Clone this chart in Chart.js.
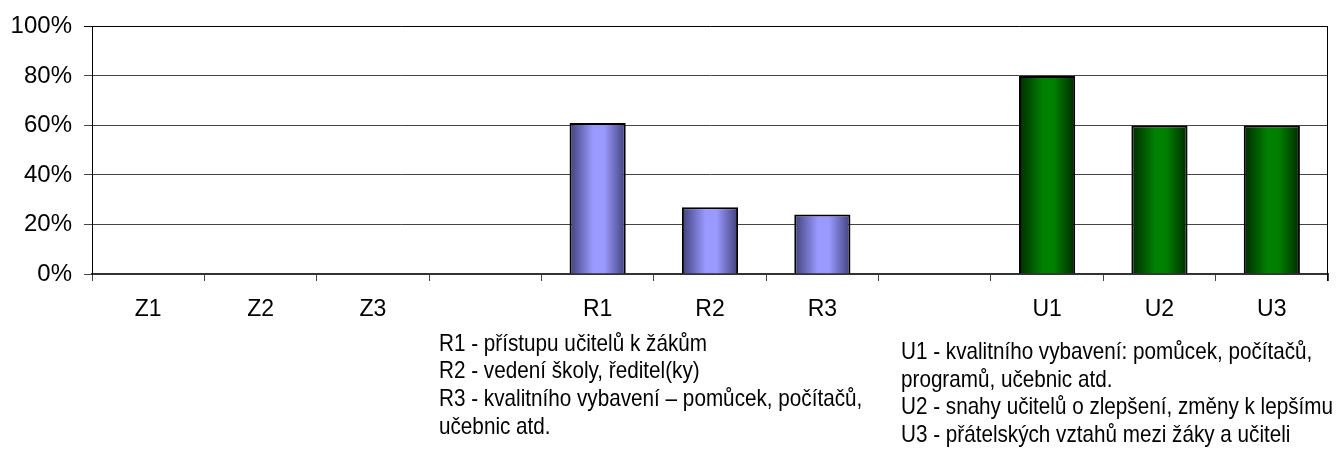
<!DOCTYPE html>
<html>
<head>
<meta charset="utf-8">
<script src="https://cdn.jsdelivr.net/npm/chart.js@4/dist/chart.umd.min.js"></script>
<style>
  html, body { margin: 0; padding: 0; background: #fff; }
  #wrap { position: relative; width: 1339px; height: 452px; overflow: hidden; }
  #c { position: absolute; left: 0; top: 0; }
  .note { position: absolute; font-family: "Liberation Sans", Arial, sans-serif; font-size: 24px; line-height: 27.7px; color: #000; white-space: nowrap; transform-origin: 0 0; }
</style>
</head>
<body>
<div id="wrap">
  <canvas id="c" width="1339" height="452"></canvas>
  <div class="note" id="noteR"></div>
  <div class="note" id="noteU"></div>
</div>
<script>
// ---- data ----
const categories = ['Z1', 'Z2', 'Z3', '', 'R1', 'R2', 'R3', '', 'U1', 'U2', 'U3'];
const rValues = [null, null, null, null, 61, 27, 24, null, null, null, null];
const uValues = [null, null, null, null, null, null, null, null, 80, 60, 60];
const yTicks = [0, 20, 40, 60, 80, 100];
const rNotes = [
  'R1 - přístupu učitelů k žákům',
  'R2 - vedení školy, ředitel(ky)',
  'R3 - kvalitního vybavení – pomůcek, počítačů,',
  'učebnic atd.'
];
const uNotes = [
  'U1 - kvalitního vybavení: pomůcek, počítačů,',
  'programů, učebnic atd.',
  'U2 - snahy učitelů o zlepšení, změny k lepšímu',
  'U3 - přátelských vztahů mezi žáky a učiteli'
];

const BAR_PCT = 0.5;
function gradientFill(edge, mid) {
  return function (ctx) {
    const chart = ctx.chart;
    const xs = chart.scales && chart.scales.x;
    if (!xs || ctx.type !== 'data' || !isFinite(xs.width) || xs.width <= 0) return mid;
    const cx = xs.getPixelForValue(ctx.dataIndex);
    const w = xs.width / categories.length * BAR_PCT;
    const g = chart.ctx.createLinearGradient(cx - w / 2, 0, cx + w / 2, 0);
    g.addColorStop(0, edge);
    g.addColorStop(0.42, mid);
    g.addColorStop(0.62, mid);
    g.addColorStop(1, edge);
    return g;
  };
}

const frame = {
  id: 'frame',
  afterDraw(chart) {
    const { ctx, chartArea } = chart;
    ctx.save();
    ctx.strokeStyle = '#000';
    ctx.lineWidth = 1;
    ctx.beginPath();
    ctx.moveTo(Math.round(chartArea.right) - 0.5, chartArea.top);
    ctx.lineTo(Math.round(chartArea.right) - 0.5, chartArea.bottom + 7);
    ctx.stroke();
    ctx.restore();
  }
};

const FONT = "'Liberation Sans', Arial, sans-serif";

new Chart(document.getElementById('c'), {
  type: 'bar',
  data: {
    labels: categories,
    datasets: [
      { data: rValues, backgroundColor: gradientFill('#40407a', '#9999ff'), borderColor: '#000', borderWidth: 2, grouped: false, barPercentage: BAR_PCT, categoryPercentage: 1 },
      { data: uValues, backgroundColor: gradientFill('#002a00', '#008000'), borderColor: '#000', borderWidth: 2, grouped: false, barPercentage: BAR_PCT, categoryPercentage: 1 }
    ]
  },
  options: {
    responsive: false,
    animation: false,
    events: [],
    layout: { padding: { top: 10, right: 11, left: 0, bottom: 0 } },
    plugins: { legend: { display: false }, tooltip: { enabled: false } },
    scales: {
      x: {
        afterFit: s => { s.height = 178; },
        grid: { offset: true, drawOnChartArea: false, drawTicks: true, tickLength: 7, color: '#444', lineWidth: 1 },
        border: { display: true, color: '#333', width: 2 },
        ticks: { color: '#000', font: { family: FONT, size: 23 }, padding: 15, maxRotation: 0, autoSkip: false }
      },
      y: {
        min: yTicks[0],
        max: yTicks[yTicks.length - 1],
        afterFit: s => { s.width = 92; },
        afterBuildTicks: s => { s.ticks = yTicks.map(v => ({ value: v })); },
        grid: {
          color: c => (c.tick && c.tick.value === 100) ? '#000' : '#444',
          lineWidth: 1, tickLength: 8, drawTicks: true
        },
        border: { display: true, color: '#000', width: 1 },
        ticks: { color: '#000', font: { family: FONT, size: 24 }, padding: 12, callback: v => v + '%' }
      }
    }
  },
  plugins: [frame]
});

function placeNote(el, lines, left, top, refIndex, refWidth) {
  el.innerHTML = '';
  const spans = lines.map(t => {
    const d = document.createElement('div');
    const s = document.createElement('span');
    s.textContent = t;
    d.appendChild(s);
    el.appendChild(d);
    return s;
  });
  el.style.left = left + 'px';
  el.style.top = top + 'px';
  const natural = spans[refIndex].getBoundingClientRect().width;
  const k = refWidth / natural;
  el.style.transform = 'scaleX(' + k + ')';
}
placeNote(document.getElementById('noteR'), rNotes, 439, 328.5, 0, 268);
placeNote(document.getElementById('noteU'), uNotes, 901, 336.8, 2, 432);
</script>
</body>
</html>
